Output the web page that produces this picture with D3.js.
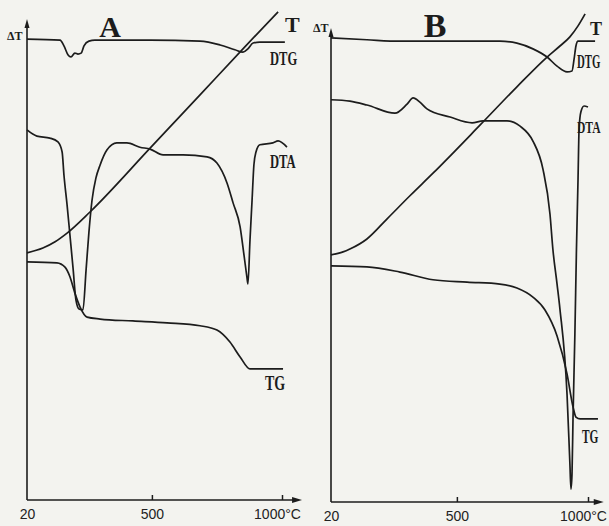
<!DOCTYPE html>
<html>
<head>
<meta charset="utf-8">
<script src="https://cdn.jsdelivr.net/npm/d3@7"></script>
<style>
  body { margin: 0; background: #f3f3ef; }
  svg { display: block; }
  .curve { fill: none; stroke: #1c1c1c; stroke-width: 1.7; stroke-linejoin: round; }
  .lbl { font-family: "Liberation Serif", serif; font-weight: bold; fill: #1c1c1c; }
  .tick text { font-family: "Liberation Sans", Arial, sans-serif; font-size: 14px; fill: #222; }
  .tick line { stroke: #1c1c1c; stroke-width: 1.5; }
</style>
</head>
<body>
<div id="chart"></div>
<script>
var w = 609;
var h = 526;

// x in °C, y in arbitrary units (0 = baseline, 100 = top)
var tickValues = [20, 500, 1000];
var tickLabels = ["20", "500", "1000°C"];

var dtgA = [[20,96.0],[147,95.8],[162,94.6],[178,92.7],[189,92.3],[204,93.1],[216,92.9],[228,93.1],
  [239,94.6],[258,95.6],[281,95.8],[493,95.8],[685,95.6],[762,94.8],[819,93.8],[850,93.3],
  [869,94.0],[889,95.2],[915,95.4],[1011,95.4]];
var dtaA = [[20,77.1],[58,75.8],[108,75.4],[139,74.6],[155,72.5],[162,67.7],[174,61.5],[185,55.2],
  [197,48.3],[208,41.7],[220,39.8],[235,39.6],[247,47.9],[258,55.8],[270,62.5],[285,67.1],
  [301,69.8],[327,72.9],[365,74.4],[404,74.4],[454,73.5],[493,73.1],[543,71.9],[620,71.9],
  [712,71.5],[750,70.2],[789,66.0],[812,61.9],[839,56.9],[854,51.0],[865,46.5],[869,45.0],
  [877,54.2],[885,62.5],[892,69.8],[900,72.5],[915,74.0],[965,74.4],[985,74.8],[1019,73.5]];
var tgA = [[20,49.6],[135,49.4],[166,48.5],[185,46.5],[204,43.1],[224,40.2],[251,38.1],[301,37.7],
  [427,37.3],[558,36.9],[685,36.3],[750,35.4],[800,32.9],[839,29.8],[877,27.3],[1004,27.3]];
var tA = [[20,51.5],[81,52.5],[128,53.8],[174,55.6],[262,60.0],[493,73.3],[685,84.4],[850,94.0],
  [985,101.7]];

var dtgB = [[20,96.7],[157,96.3],[283,96.0],[474,96.0],[664,96.0],[729,95.6],[790,94.4],[844,92.7],
  [882,90.8],[920,89.6],[939,89.8],[947,92.3],[954,95.0],[962,96.0],[1027,96.0]];
var dtaB = [[20,83.8],[92,83.5],[157,82.7],[264,81.0],[310,82.9],[333,84.2],[359,83.3],[386,81.9],
  [474,80.2],[558,79.0],[600,79.4],[691,79.4],[741,78.3],[790,75.2],[828,69.4],[855,60.0],
  [866,52.7],[882,45.4],[893,40.2],[920,22.5],[931,7.9],[935,2.7],[939,5.8],[943,17.9],
  [950,35.0],[956,52.7],[962,67.3],[966,77.7],[973,81.3],[985,82.5],[1000,82.3]];
var tgB = [[20,49.2],[157,49.0],[283,47.9],[409,46.3],[539,45.8],[664,45.4],[729,44.6],[790,42.7],
  [836,40.0],[882,34.6],[920,26.7],[943,19.8],[954,17.7],[970,17.3],[1038,17.3]];
var tB = [[20,51.5],[66,52.1],[92,52.7],[157,54.8],[234,59.0],[321,63.8],[409,68.5],[588,78.5],
  [729,86.5],[844,92.7],[893,95.0],[931,96.9],[962,99.2],[989,101.7]];

// sx = horizontal squeeze of the hand-lettered labels
var panels = [
  { x0: 27, x1: 282, base: 500, top: 20, yTop: 19, axisEnd: 1077, series: [dtgA, dtaA, tgA, tA],
    labels: [
      { t: "A", x: 110, y: 37, size: 30, anchor: "middle" },
      { t: "ΔT", x: 7, y: 40, size: 12 },
      { t: "T", x: 285, y: 32, size: 22 },
      { t: "DTG", x: 270, y: 65, size: 19, sx: 0.66 },
      { t: "DTA", x: 270, y: 168, size: 18, sx: 0.7 },
      { t: "TG", x: 265, y: 390, size: 20, sx: 0.7 }
    ] },
  { x0: 331, x1: 588, base: 502, top: 22, yTop: 28, axisEnd: 1060, series: [dtgB, dtaB, tgB, tB],
    labels: [
      { t: "B", x: 435, y: 37, size: 34, anchor: "middle" },
      { t: "ΔT", x: 313, y: 32, size: 12 },
      { t: "T", x: 590, y: 35, size: 18 },
      { t: "DTG", x: 577, y: 68, size: 18, sx: 0.6 },
      { t: "DTA", x: 577, y: 133, size: 17, sx: 0.68 },
      { t: "TG", x: 582, y: 443, size: 19, sx: 0.6 }
    ] }
];

var svg = d3.select("#chart")
            .append("svg")
            .attr("width", w)
            .attr("height", h);

panels.forEach(function(p) {
  var x = d3.scaleLinear().domain([20, 1000]).range([p.x0, p.x1]);
  var y = d3.scaleLinear().domain([0, 100]).range([p.base, p.top]);
  var g = svg.append("g");

  // axes with arrow heads
  var ax = x(20), ay = y(0), ex = x(p.axisEnd);
  g.append("line").attr("x1", ax).attr("y1", ay).attr("x2", ax).attr("y2", p.yTop + 4)
    .attr("stroke", "#1c1c1c").attr("stroke-width", 1.6);
  g.append("line").attr("x1", ax).attr("y1", ay).attr("x2", ex - 6).attr("y2", ay)
    .attr("stroke", "#1c1c1c").attr("stroke-width", 1.6);
  g.append("path")
    .attr("d", "M" + ax + "," + p.yTop + "l-2.5,9h5z")
    .attr("fill", "#1c1c1c");
  g.append("path")
    .attr("d", "M" + ex + "," + ay + "l-10,-3v6z")
    .attr("fill", "#1c1c1c");

  var axis = d3.axisBottom(x)
    .tickValues(tickValues)
    .tickFormat(function(d, i) { return tickLabels[i]; })
    .tickSizeInner(-5)
    .tickSizeOuter(0)
    .tickPadding(9);
  var axg = g.append("g").attr("transform", "translate(0," + ay + ")").call(axis);
  axg.select(".domain").remove();
  axg.selectAll(".tick text").attr("dx", function(d) { return d === 1000 ? -5 : 0; });
  axg.selectAll(".tick").filter(function(d) { return d === 20; }).select("line").remove();

  var line = d3.line()
    .x(function(d) { return x(d[0]); })
    .y(function(d) { return y(d[1]); })
    .curve(d3.curveMonotoneX);

  g.selectAll(".curve")
    .data(p.series)
    .enter()
    .append("path")
    .attr("class", "curve")
    .attr("d", line);

  p.labels.forEach(function(l) {
    g.append("text")
      .attr("class", "lbl")
      .attr("transform", "translate(" + l.x + "," + l.y + ") scale(" + (l.sx || 1) + ",1)")
      .attr("font-size", l.size)
      .attr("text-anchor", l.anchor || "start")
      .text(l.t);
  });
});
</script>
</body>
</html>
